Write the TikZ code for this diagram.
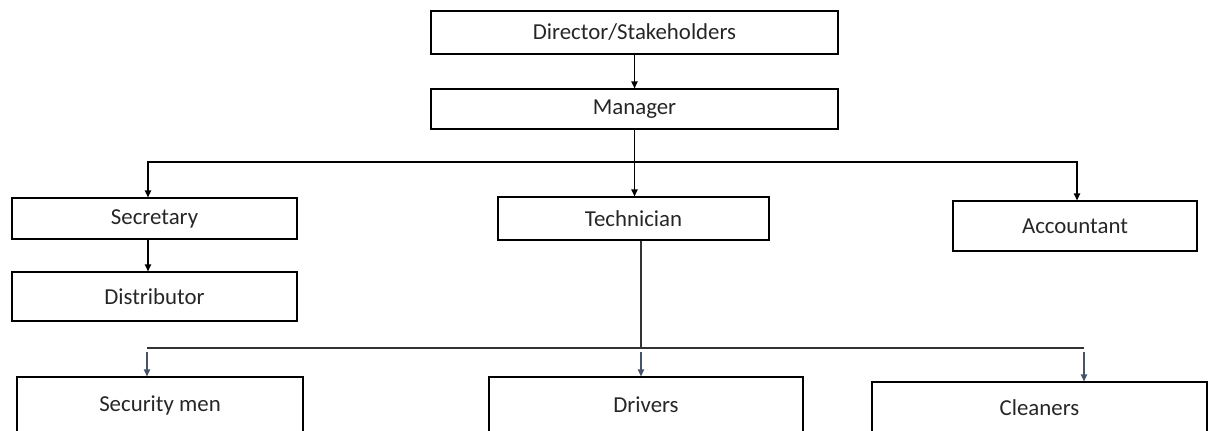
\documentclass[tikz,border=0pt]{standalone}
\usepackage{fontspec}
\setmainfont{Carlito}
\usetikzlibrary{arrows.meta}
\definecolor{slate}{HTML}{44546A}

\begin{document}
\begin{tikzpicture}[x=0.02cm,y=-0.02cm,>={Triangle[length=4pt,width=3.6pt]},
    box/.style={draw,line width=0.7pt,inner sep=0pt,font=\fontsize{13}{15}\selectfont,text=black!85},
    conn/.style={line width=0.75pt},
    lowconn/.style={line width=0.75pt,black!80},
    garr/.style={->,line width=0.75pt,slate}]
  \useasboundingbox (0,0) rectangle (1213,430);
  \clip (0,0) rectangle (1213,430);
  % top levels
  \node[box,minimum width=8.14cm,minimum height=0.86cm] (dir) at (634.5,32.5) {Director/Stakeholders};
  \node[box,minimum width=8.14cm,minimum height=0.80cm] (mgr) at (634.5,109) {Manager};
  % second level
  \node[box,minimum width=5.70cm,minimum height=0.82cm] (sec) at (154.5,218.5) {Secretary};
  \node[box,minimum width=5.70cm,minimum height=0.98cm] (dis) at (154.5,296.5) {Distributor};
  \node[box,minimum width=5.42cm,minimum height=0.86cm] (tec) at (633.5,218.5) {Technician};
  \node[box,minimum width=4.88cm,minimum height=1.00cm] (acc) at (1075,226) {Accountant};
  % bottom level (cut off by the page edge)
  \node[box,minimum width=5.72cm,minimum height=1.12cm] (sm) at (160,405) {Security men};
  \node[box,minimum width=6.28cm,minimum height=1.12cm] (drv) at (646,405) {Drivers};
  \node[box,minimum width=6.70cm,minimum height=1.02cm] (cln) at (1039.5,407.5) {Cleaners};
  % bus points
  \coordinate (bus1) at (634.5,162);
  \coordinate (bl) at (147,348);
  \coordinate (bm) at (641,348);
  \coordinate (br) at (1084,348);
  % manager links
  \draw[conn,->] (dir) -- (mgr);
  \draw[conn] (mgr.south) -- (bus1);
  \draw[conn,->] (bus1) -| ([xshift=-0.13cm]sec.north);
  \draw[conn,->] (bus1) -- (bus1 |- tec.north);
  \draw[conn,->] (bus1) -| ([xshift=0.04cm]acc.north);
  \draw[conn,->] ([xshift=-0.13cm]sec.south) -- ([xshift=-0.13cm]dis.north);
  % technician links
  \draw[lowconn] (tec.south -| bm) -- (bm);
  \draw[lowconn] (bl) -- (br);
  \foreach \n/\c in {sm/bl,drv/bm,cln/br}
    \draw[garr] ([yshift=-0.08cm]\c) -- (\n.north -| \c);
\end{tikzpicture}
\end{document}
